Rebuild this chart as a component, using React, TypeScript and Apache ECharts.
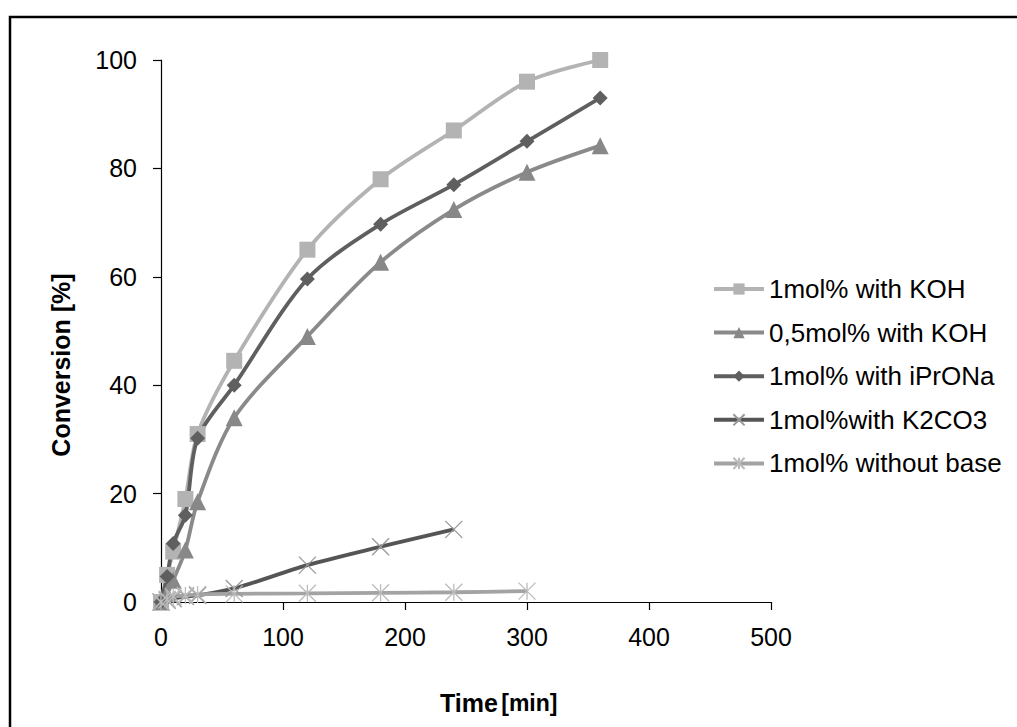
import React, { useEffect, useRef } from "react";
import * as echarts from "echarts";

const FONT = "'Liberation Sans', Arial, sans-serif";

const seriesNames = [
  "1mol% with KOH",
  "0,5mol% with KOH",
  "1mol% with iPrONa",
  "1mol%with K2CO3",
  "1mol% without base",
];

const timesMain = [0, 5, 10, 20, 30, 60, 120, 180, 240, 300, 360];
const koh1 = [0, 5, 9.3, 19, 31, 44.5, 65, 78, 87, 96, 100];
const koh05 = [0, 1.5, 4, 9.6, 18.5, 34, 49, 62.7, 72.4, 79.3, 84.2];
const iPrONa = [0, 4.7, 10.8, 16, 30.2, 40, 59.6, 69.7, 77, 85, 93];

const timesK2CO3 = [0, 5, 10, 20, 30, 60, 120, 180, 240];
const k2co3 = [0, 0.3, 0.6, 1, 1.2, 2.5, 6.8, 10.2, 13.4];

const timesNoBase = [0, 5, 10, 20, 30, 60, 120, 180, 240, 300];
const noBase = [0, 0.5, 1, 1.2, 1.4, 1.5, 1.6, 1.7, 1.8, 2];

const xTicks = [0, 100, 200, 300, 400, 500];
const yTicks = [0, 20, 40, 60, 80, 100];

const X_SYMBOL = "path://M0,0L10,10M10,0L0,10";
const STAR_SYMBOL = "path://M5,0L5,10M0,0L10,10M10,0L0,10";

function pairs(xs: number[], ys: number[]) {
  return xs.map((x, i) => [x, ys[i]]);
}

export default function App() {
  const ref = useRef<HTMLDivElement>(null);

  useEffect(() => {
    const chart = echarts.init(ref.current!, null, { renderer: "svg" });
    const mk = (
      name: string,
      data: number[][],
      lineColor: string,
      symbol: string,
      symbolSize: number,
      item: any
    ) => ({
      name,
      type: "line",
      data,
      smooth: 0.3,
      symbol,
      symbolSize,
      lineStyle: { color: lineColor, width: 3.8 },
      itemStyle: item,
      emphasis: { disabled: true },
    });

    chart.setOption({
      animation: false,
      backgroundColor: "#ffffff",
      textStyle: { fontFamily: FONT },
      grid: { left: 161, top: 60, width: 610, height: 542, containLabel: false },
      xAxis: {
        type: "value",
        min: xTicks[0],
        max: xTicks[xTicks.length - 1],
        interval: 100,
        axisLine: { show: true, onZero: false, lineStyle: { color: "#000", width: 1.2 } },
        axisTick: { show: true, length: 8, lineStyle: { color: "#000", width: 1.2 } },
        splitLine: { show: false },
        axisLabel: { color: "#000", fontSize: 25, fontFamily: FONT, margin: 22 },
      },
      yAxis: {
        type: "value",
        min: yTicks[0],
        max: yTicks[yTicks.length - 1],
        interval: 20,
        axisLine: { show: true, onZero: false, lineStyle: { color: "#000", width: 1.2 } },
        axisTick: { show: true, length: 8, lineStyle: { color: "#000", width: 1.2 } },
        splitLine: { show: false },
        axisLabel: { color: "#000", fontSize: 25, fontFamily: FONT, margin: 24 },
      },
      legend: {
        left: 712,
        top: 274,
        padding: 0,
        orient: "vertical",
        itemWidth: 50,
        itemHeight: 14,
        itemGap: 13.6,
        lineStyle: { width: 4 },
        textStyle: { color: "#000", fontSize: 26, fontFamily: FONT, lineHeight: 30 },
        data: seriesNames,
      },
      series: [
        mk(seriesNames[0], pairs(timesMain, koh1), "#b3b3b3", "rect", 16, { color: "#b3b3b3" }),
        mk(seriesNames[1], pairs(timesMain, koh05), "#8a8a8a", "triangle", 17, { color: "#888888" }),
        mk(seriesNames[2], pairs(timesMain, iPrONa), "#5f5f5f", "diamond", 15, { color: "#5f5f5f" }),
        mk(seriesNames[3], pairs(timesK2CO3, k2co3), "#555555", X_SYMBOL, 17, {
          color: "#999999",
          borderColor: "#999999",
          borderWidth: 1.3,
        }),
        mk(seriesNames[4], pairs(timesNoBase, noBase), "#a3a3a3", STAR_SYMBOL, 17, {
          color: "#bbbbbb",
          borderColor: "#bbbbbb",
          borderWidth: 1.3,
        }),
      ],
      graphic: [
        {
          type: "rect",
          shape: { x: 10, y: 17, width: 1200, height: 900 },
          style: { fill: "none", stroke: "#000", lineWidth: 2.5 },
          silent: true,
        },
        {
          type: "text",
          x: 440,
          y: 703,
          style: {
            text: "{a|Time} {b|[min]}",
            align: "left",
            verticalAlign: "middle",
            rich: {
              a: { fontSize: 25, fontWeight: "bold", fontFamily: FONT, fill: "#000" },
              b: { fontSize: 23, fontWeight: "bold", fontFamily: FONT, fill: "#000" },
            },
          },
        },
        {
          type: "text",
          x: 61,
          y: 365,
          rotation: Math.PI / 2,
          style: {
            text: "Conversion [%]",
            align: "center",
            verticalAlign: "middle",
            fontSize: 25,
            fontWeight: "bold",
            fontFamily: FONT,
            fill: "#000",
          },
        },
      ],
    });
    return () => chart.dispose();
  }, []);

  return (
    <div
      ref={ref}
      style={{ position: "absolute", left: 0, top: 0, width: 1017, height: 727, background: "#fff" }}
    />
  );
}
